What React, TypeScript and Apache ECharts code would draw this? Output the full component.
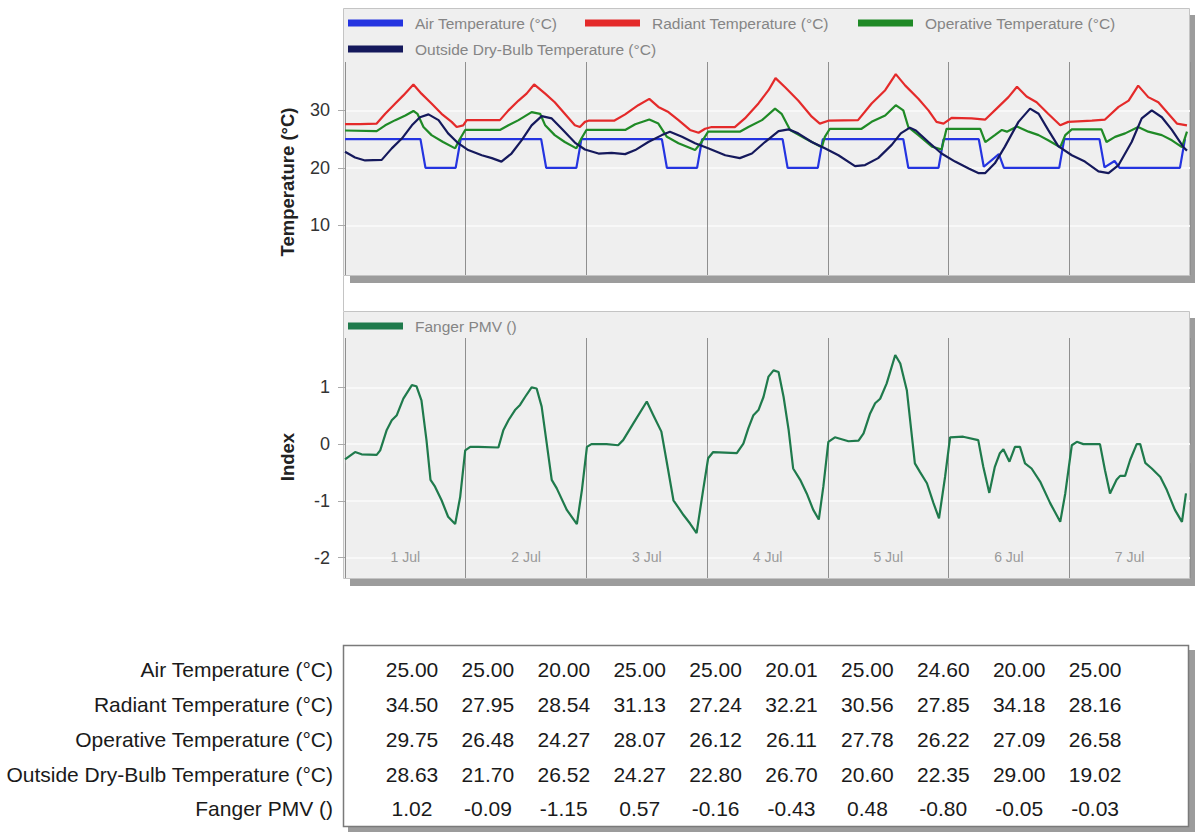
import React, { useEffect, useRef } from 'react';
import * as echarts from 'echarts';

const FONT = "'Liberation Sans', Arial, Helvetica, sans-serif";

const dayLabels = ['1 Jul', '2 Jul', '3 Jul', '4 Jul', '5 Jul', '6 Jul', '7 Jul'];
const tempTicks = [10, 20, 30];
const indexTicks = [-2, -1, 0, 1];

// [hour, value]
const airPoints = [
  [0, 25], [15, 25], [16, 20], [22, 20], [23, 25],
  [39, 25], [40, 20], [46, 20], [47, 25],
  [63, 25], [64, 20], [70, 20], [71, 25],
  [87, 25], [88, 20], [94, 20], [95, 25],
  [111, 25], [112, 20], [118, 20], [119, 25],
  [126, 25], [127, 20.2], [130, 22.4], [131, 20], [142, 20], [143, 25],
  [150, 25], [151, 20.1], [153, 21.2], [154, 20], [166, 20], [167, 25],
];

const radiantPoints = [
  [0, 27.6], [3, 27.6], [6.3, 27.7], [8, 29.4], [10, 31.2], [11.6, 32.6], [13.6, 34.5], [15.2, 32.9], [17.2, 31.2], [19.2, 29.4], [21.2, 28], [22.2, 27.1], [23.5, 27.4],
  [24.2, 28.3], [30.8, 28.3], [32.5, 30], [34.5, 31.7], [36.1, 32.9], [37.6, 34.5], [39.8, 32.9], [41.7, 31.4], [43.7, 29.4], [45.7, 27.4], [46.7, 27.1], [47.7, 28],
  [48.4, 28.2], [53.5, 28.2], [55.7, 29.3], [58.3, 30.9], [60.5, 32], [62.3, 30.6], [64.3, 29.7], [66.3, 28.3], [68.6, 26.6], [70.3, 26.1], [71.6, 26.8],
  [72.9, 27.1], [77.5, 27.1], [79.5, 28.6], [82.2, 31.2], [84.2, 33.5], [85.6, 35.6], [87.5, 34], [90.1, 31.7], [92.8, 28.9], [94.4, 27.7],
  [96.1, 28.2], [102, 28.3], [104.7, 31.2], [107.4, 33.5], [109.5, 36.3], [111.4, 34.3], [114, 32], [116, 30], [117.6, 28], [119, 27.7],
  [120.6, 28.7], [124.6, 28.6], [127.3, 28.4], [129.9, 30.6], [131.9, 32.3], [133.6, 34.1], [135.5, 32.4], [137.5, 31.4], [139.8, 29.4], [142.2, 27.4], [143.8, 28],
  [148.5, 28.2], [151.1, 28.4], [153.8, 30.6], [155.8, 31.7], [157.7, 34.3], [159.7, 32.3], [161.7, 31.4], [163.7, 29.4], [165.4, 27.7], [167.4, 27.4],
];

const operativePoints = [
  [0, 26.5], [6.3, 26.4], [8, 27.4], [10, 28.3], [12, 29.1], [13.6, 29.9], [14.4, 29.4], [15.6, 27.1], [17.2, 25.7], [19.5, 24.5], [21.9, 23.4], [22.7, 24.8],
  [23.9, 26.6], [30.8, 26.6], [32.5, 27.4], [34.5, 28.3], [37.1, 29.7], [38.8, 29.4], [39.8, 27.4], [41.7, 25.7], [43.7, 24.5], [46, 23.4], [47, 25.1],
  [48, 26.6], [55.7, 26.6], [57.7, 27.6], [60.5, 28.4], [62.3, 27.7], [64, 25.4], [66.3, 24.3], [69.6, 23.1], [70.9, 24.5],
  [72.2, 26.3], [78.5, 26.3], [80.2, 27.1], [82.9, 28.3], [85.5, 30.3], [86.8, 29.4], [88.5, 26.6], [91.5, 25.1], [94.8, 23.6], [95.4, 25.4],
  [96.4, 26.8], [102.7, 26.8], [104.7, 28], [107.4, 29.1], [109.5, 30.9], [111, 30], [112, 27.1], [114, 25.7], [116.7, 23.7], [118.6, 23.2],
  [119.6, 26.8], [126.3, 26.8], [127.3, 24.5], [129.2, 25.7], [130.6, 26.6], [131.6, 26.3], [133.6, 27.2], [135.9, 26.3], [137.9, 25.7], [139.8, 24.8], [142.2, 23.6], [143.2, 25.7],
  [144.5, 26.7], [150.4, 26.7], [151.4, 24.5], [153.1, 25.4], [155.1, 26], [157.7, 27.1], [159.7, 26.3], [162.4, 25.7], [164.4, 24.8], [166.4, 23.6], [167.4, 26.3],
];

const outsidePoints = [
  [0, 22.8], [2, 21.8], [4, 21.3], [7.3, 21.4], [9.3, 23.4], [11.3, 25.1], [13.3, 27.4], [14.9, 28.8], [16.6, 29.3], [18.6, 28.3], [20.5, 26], [22.5, 24.3],
  [24.5, 23.1], [27.2, 22.2], [29.2, 21.7], [31.1, 21.1], [33.1, 22.5], [35.1, 24.8], [37.1, 27.4], [39.1, 29], [41.1, 28.6], [43.1, 26.8], [45.7, 24.4], [47.7, 23.2],
  [50.4, 22.5], [53, 22.6], [55.7, 22.4], [57.7, 23.1], [60.3, 24.5], [63, 25.7], [64.6, 26.3], [67, 25.4], [69.6, 24.3],
  [72.2, 23.4], [75.6, 22.2], [78.5, 21.7], [80.9, 22.5], [83.5, 24.5], [86.2, 26.4], [88.2, 26.7], [90.1, 26], [92.8, 24.5], [95.4, 23.4],
  [98.1, 22.2], [101.4, 20.3], [103.4, 20.5], [106, 21.7], [108.7, 24], [110.5, 26], [112.3, 27], [113.5, 26.5], [116, 24.5], [118.6, 22.5],
  [121.3, 21.1], [124, 19.9], [125.9, 19.1], [127.3, 19.1], [129.2, 20.8], [131.2, 23.7], [133.9, 28], [136.2, 30.3], [137.9, 29.4], [139.8, 26.6], [141.8, 23.8],
  [144.5, 22.2], [147.1, 21.1], [149.8, 19.4], [151.8, 19.1], [153.8, 20.5], [156.4, 24.5], [158.4, 28.6], [160.4, 30], [162.4, 28.8], [164.4, 26.6], [166.7, 23.6], [167.4, 23],
];

const pmvPoints = [
  [0, -0.27], [2, -0.14], [3.3, -0.18], [6.3, -0.19], [7, -0.11], [8.3, 0.25], [9.3, 0.42], [10.3, 0.51], [11.6, 0.8], [13.3, 1.04], [14.2, 1.02], [15.2, 0.77],
  [16.2, 0.07], [17, -0.63], [17.9, -0.75], [19.2, -0.99], [20.5, -1.28], [21.9, -1.41], [22.9, -0.93], [23.9, -0.11],
  [24.9, -0.05], [26.5, -0.05], [30.5, -0.06], [31.5, 0.25], [32.5, 0.42], [33.8, 0.6], [34.8, 0.69], [35.8, 0.83], [37.1, 1.0], [38.1, 0.98], [39.1, 0.66],
  [41.1, -0.63], [42.1, -0.78], [44.1, -1.16], [46.1, -1.41], [47.1, -0.81],
  [48.1, -0.05], [49, 0], [52, 0], [54.3, -0.02], [55.3, 0.07], [57.3, 0.36], [60, 0.75], [61.3, 0.51], [62.9, 0.22], [63.9, -0.28],
  [65.3, -0.99], [67.3, -1.25], [68.6, -1.4], [69.9, -1.57], [71.2, -0.81],
  [72.2, -0.25], [73.2, -0.14], [77.9, -0.16], [79.2, 0.01], [80.2, 0.28], [81.2, 0.51], [82.2, 0.6], [83.2, 0.83], [84.2, 1.19], [85.2, 1.3], [86.2, 1.27],
  [87.2, 0.83], [88.2, 0.25], [89.1, -0.43], [90.5, -0.63], [91.8, -0.87], [93.1, -1.16], [94.2, -1.33], [95.1, -0.75],
  [96.1, 0.04], [97.4, 0.12], [100.1, 0.05], [102.1, 0.06], [103.1, 0.19], [104.4, 0.54], [105.4, 0.72], [106.4, 0.8], [107.7, 1.07], [109.4, 1.57], [110.4, 1.42],
  [111.7, 0.95], [113.3, -0.34], [114.3, -0.49], [115.7, -0.69], [117, -1.04], [118.1, -1.31], [119.3, -0.58],
  [120.3, 0.12], [122.9, 0.13], [125.9, 0.07], [126.9, -0.4], [128.1, -0.86], [129.2, -0.4], [130.2, -0.16], [130.9, -0.09], [132.1, -0.31], [133.2, -0.05],
  [134.2, -0.05], [135.2, -0.34], [136.5, -0.43], [138.2, -0.66], [140.2, -1.04], [142.2, -1.37], [143.2, -0.87],
  [144.5, -0.02], [145.5, 0.04], [146.8, 0], [150.1, 0], [151.1, -0.46], [152.1, -0.87], [153.4, -0.63], [154.1, -0.56], [155.1, -0.56], [156.1, -0.28],
  [157.4, 0], [158.1, 0], [159.1, -0.33], [160.4, -0.43], [162.1, -0.58], [163.4, -0.81], [165, -1.16], [166.4, -1.37], [167.2, -0.87],
];

// table
const tableRowNames = [
  'Air Temperature (°C)',
  'Radiant Temperature (°C)',
  'Operative Temperature (°C)',
  'Outside Dry-Bulb Temperature (°C)',
  'Fanger PMV ()',
];
const airTable = [25.0, 25.0, 20.0, 25.0, 25.0, 20.01, 25.0, 24.6, 20.0, 25.0];
const radiantTable = [34.5, 27.95, 28.54, 31.13, 27.24, 32.21, 30.56, 27.85, 34.18, 28.16];
const operativeTable = [29.75, 26.48, 24.27, 28.07, 26.12, 26.11, 27.78, 26.22, 27.09, 26.58];
const outsideTable = [28.63, 21.7, 26.52, 24.27, 22.8, 26.7, 20.6, 22.35, 29.0, 19.02];
const pmvTable = [1.02, -0.09, -1.15, 0.57, -0.16, -0.43, 0.48, -0.8, -0.05, -0.03];

const C_AIR = '#2434e0';
const C_RAD = '#e42a2a';
const C_OP = '#1f8a26';
const C_OUT = '#15195c';
const C_PMV = '#1f7a4c';

function buildOption() {
  const tableData = [airTable, radiantTable, operativeTable, outsideTable, pmvTable];
  const rowY = [669, 704, 739, 774, 808];
  const colX0 = 412;
  const colStep = 75.9;

  const legendCommon = {
    padding: 0,
    icon: 'rect',
    itemWidth: 55,
    itemHeight: 7,
    selectedMode: false,
    textStyle: { color: '#858585', fontSize: 15.5, fontFamily: FONT, padding: [0, 0, 0, 7] },
  };

  const graphics: any[] = [
    // top panel
    { type: 'rect', z: -10, silent: true, shape: { x: 350, y: 15, width: 847, height: 268 }, style: { fill: '#9c9c9c' } },
    { type: 'rect', z: -10, silent: true, shape: { x: 343.5, y: 8.5, width: 846, height: 267 }, style: { fill: '#efefef', stroke: '#c4c4c4', lineWidth: 1 } },
    { type: 'line', z: -10, silent: true, shape: { x1: 343.5, y1: 276, x2: 343.5, y2: 311 }, style: { stroke: '#c4c4c4', lineWidth: 1 } },
    // bottom panel
    { type: 'rect', z: -10, silent: true, shape: { x: 350, y: 318, width: 847, height: 268 }, style: { fill: '#9c9c9c' } },
    { type: 'rect', z: -10, silent: true, shape: { x: 343.5, y: 311.5, width: 846, height: 267 }, style: { fill: '#efefef', stroke: '#c4c4c4', lineWidth: 1 } },
    // table
    { type: 'rect', z: -10, silent: true, shape: { x: 348, y: 650, width: 847, height: 182 }, style: { fill: '#9c9c9c' } },
    { type: 'rect', z: -10, silent: true, shape: { x: 343.5, y: 645.5, width: 845, height: 181 }, style: { fill: '#ffffff', stroke: '#7a7a7a', lineWidth: 1.5 } },
    // axis names
    {
      type: 'text', x: 287, y: 182, rotation: Math.PI / 2, silent: true,
      style: { text: 'Temperature (°C)', fill: '#222', fontSize: 18.5, fontWeight: 'bold', fontFamily: FONT, align: 'center', verticalAlign: 'middle' },
    },
    {
      type: 'text', x: 287, y: 457, rotation: Math.PI / 2, silent: true,
      style: { text: 'Index', fill: '#222', fontSize: 18.5, fontWeight: 'bold', fontFamily: FONT, align: 'center', verticalAlign: 'middle' },
    },
  ];

  tableRowNames.forEach((name, r) => {
    graphics.push({
      type: 'text', x: 333, y: rowY[r], silent: true,
      style: { text: name, fill: '#1a1a1a', fontSize: 21, fontFamily: FONT, align: 'right', verticalAlign: 'middle' },
    });
    tableData[r].forEach((v, c) => {
      graphics.push({
        type: 'text', x: colX0 + c * colStep, y: rowY[r], silent: true,
        style: { text: v.toFixed(2), fill: '#1a1a1a', fontSize: 21, fontFamily: FONT, align: 'center', verticalAlign: 'middle' },
      });
    });
  });

  const lineSeries = (name: string, data: number[][], color: string, xi: number, yi: number) => ({
    type: 'line',
    name,
    data,
    xAxisIndex: xi,
    yAxisIndex: yi,
    showSymbol: false,
    symbol: 'none',
    lineStyle: { color, width: 2.2 },
    itemStyle: { color },
    emphasis: { disabled: true },
  });

  const vLine = { show: true, lineStyle: { color: '#8f8f8f', width: 1 } };

  return {
    animation: false,
    backgroundColor: '#ffffff',
    textStyle: { fontFamily: FONT },
    grid: [
      { left: 345, top: 62, width: 845, height: 213 },
      { left: 345, top: 338, width: 845, height: 240 },
    ],
    legend: [
      { ...legendCommon, data: ['Air Temperature (°C)'], left: 348, top: 15 },
      { ...legendCommon, data: ['Radiant Temperature (°C)'], left: 585, top: 15 },
      { ...legendCommon, data: ['Operative Temperature (°C)'], left: 858, top: 15 },
      { ...legendCommon, data: ['Outside Dry-Bulb Temperature (°C)'], left: 348, top: 41 },
      { ...legendCommon, data: ['Fanger PMV ()'], left: 348, top: 318 },
    ],
    xAxis: [
      {
        gridIndex: 0, type: 'value', min: 0, max: 168, interval: 24, position: 'bottom',
        axisLine: { show: false }, axisTick: { show: false }, axisLabel: { show: false }, splitLine: vLine,
      },
      {
        gridIndex: 1, type: 'value', min: 0, max: 168, interval: 24, position: 'bottom',
        axisLine: { show: false },
        axisTick: { show: true, length: 19, lineStyle: { color: '#9a9a9a' } },
        axisLabel: { show: false }, splitLine: vLine,
      },
      {
        gridIndex: 1, type: 'category', data: dayLabels, position: 'bottom', boundaryGap: true,
        axisLine: { show: false }, axisTick: { show: false }, splitLine: { show: false },
        axisLabel: { inside: true, margin: 14, color: '#9a9a9a', fontSize: 14, fontFamily: FONT },
      },
    ],
    yAxis: [
      {
        gridIndex: 0, type: 'value', min: 1.4, max: 38.4,
        axisLine: { show: false },
        axisTick: { show: true, length: 7, lineStyle: { color: '#aaaaaa' }, customValues: tempTicks },
        axisLabel: { customValues: tempTicks, color: '#333', fontSize: 18, fontFamily: FONT, margin: 15 },
        splitLine: { show: true, lineStyle: { color: '#f8f8f8', width: 2 } },
      },
      {
        gridIndex: 1, type: 'value', min: -2.36, max: 1.87,
        axisLine: { show: false },
        axisTick: { show: true, length: 7, lineStyle: { color: '#aaaaaa' }, customValues: indexTicks },
        axisLabel: { customValues: indexTicks, color: '#333', fontSize: 18, fontFamily: FONT, margin: 15 },
        splitLine: { show: true, lineStyle: { color: '#f8f8f8', width: 2 } },
      },
    ],
    series: [
      lineSeries('Air Temperature (°C)', airPoints, C_AIR, 0, 0),
      lineSeries('Radiant Temperature (°C)', radiantPoints, C_RAD, 0, 0),
      lineSeries('Operative Temperature (°C)', operativePoints, C_OP, 0, 0),
      lineSeries('Outside Dry-Bulb Temperature (°C)', outsidePoints, C_OUT, 0, 0),
      lineSeries('Fanger PMV ()', pmvPoints, C_PMV, 1, 1),
    ],
    graphic: { elements: graphics },
  };
}

export default function App() {
  const ref = useRef<HTMLDivElement>(null);
  useEffect(() => {
    if (!ref.current) return;
    const chart = echarts.init(ref.current, null, { renderer: 'svg' });
    chart.setOption(buildOption() as any);
    return () => chart.dispose();
  }, []);
  return (
    <div
      ref={ref}
      style={{ position: 'fixed', left: 0, top: 0, width: 1195, height: 832, background: '#ffffff' }}
    />
  );
}
